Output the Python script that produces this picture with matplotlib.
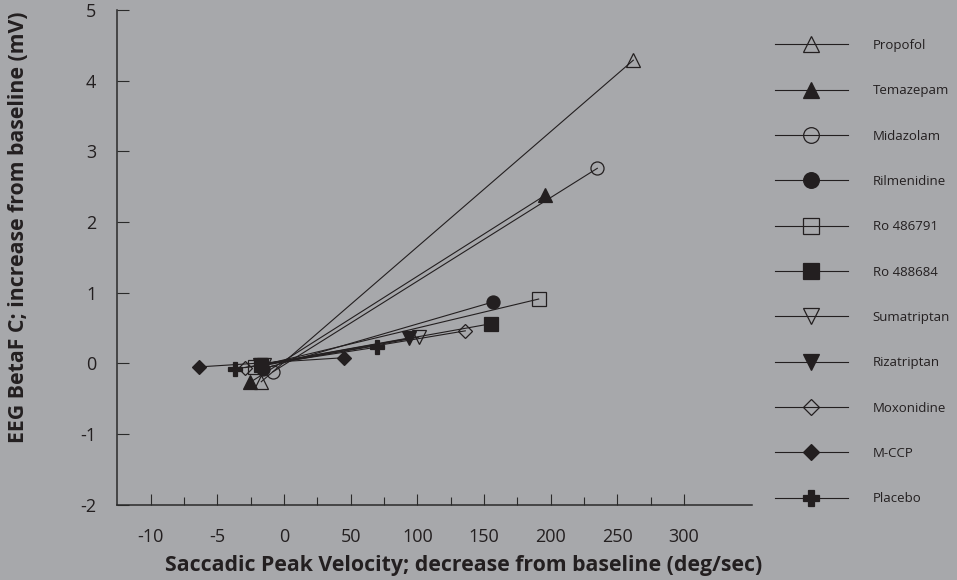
import numpy as np
import matplotlib
matplotlib.use("Agg")
import matplotlib.pyplot as plt

plt.rcParams['font.family'] = ['Open Sans', 'DejaVu Sans']
plt.rcParams['axes.unicode_minus'] = False

# ---- data ----
drugs = ['Propofol', 'Temazepam', 'Midazolam', 'Rilmenidine', 'Ro 486791',
         'Ro 488684', 'Sumatriptan', 'Rizatriptan', 'Moxonidine', 'M-CCP', 'Placebo']
x_low = [-1.7, -2.55, -0.83, -1.6, -2.2, -1.7, -1.5, -1.8, -2.9, -6.35, -3.7]
y_low = [-0.26, -0.27, -0.12, -0.08, -0.05, -0.02, -0.03, -0.02, -0.06, -0.05, -0.08]
x_high = [262, 196, 235, 157, 191, 155, 101, 94, 136, 45, 70]
y_high = [4.29, 2.38, 2.76, 0.87, 0.91, 0.56, 0.37, 0.36, 0.46, 0.08, 0.23]
markers = ['^', '^', 'o', 'o', 's', 's', 'v', 'v', 'D', 'D', 'P']
filled = [False, True, False, True, False, True, False, True, False, True, True]

x_major = [-10, -5, 0, 50, 100, 150, 200, 250, 300]
x_minor = [-7.5, -2.5, 25, 75, 125, 175, 225, 275]
x_labels = ['-10', '-5', '0', '50', '100', '150', '200', '250', '300']
y_ticks = [-2, -1, 0, 1, 2, 3, 4, 5]

BG = '#a7a8ab'
INK = '#231f20'


def fwd(x):
    x = np.asarray(x, dtype=float)
    return np.where(x < 0, x / 5.0, x / 50.0)


def inv(u):
    u = np.asarray(u, dtype=float)
    return np.where(u < 0, u * 5.0, u * 50.0)


W, H = 957, 580
fig = plt.figure(figsize=(W / 100, H / 100), dpi=100, facecolor=BG)
ax = fig.add_axes([117 / W, 1 - 504.7 / H, (752 - 117) / W, (504.7 - 10) / H])
ax.set_facecolor(BG)
ax.set_xscale('function', functions=(fwd, inv))
ax.set_xlim(-12.52, 351)
ax.set_ylim(-2, 5)

for name, xl, yl, xh, yh, m, f in zip(drugs, x_low, y_low, x_high, y_high, markers, filled):
    ms = 6.9 if m == 'D' else 9.4
    ax.plot([xl, xh], [yl, yh], color=INK, lw=0.8, marker=m, markersize=ms,
            markerfacecolor=INK if f else 'none', markeredgecolor=INK,
            markeredgewidth=0.9, label=name)

ax.set_xticks(x_major)
ax.set_xticklabels(x_labels)
ax.set_xticks(x_minor, minor=True)
ax.set_yticks(y_ticks)
ax.set_yticklabels([str(v) for v in y_ticks])

for s in ['top', 'right']:
    ax.spines[s].set_visible(False)
for s in ['left', 'bottom']:
    ax.spines[s].set_linewidth(1.1)
    ax.spines[s].set_color('#2a2a2a')

ax.tick_params(axis='x', which='major', direction='in', length=8, width=0.8,
               color='#2a2a2a', pad=17, labelsize=13, labelcolor=INK)
ax.tick_params(axis='x', which='minor', direction='in', length=5.5, width=0.8,
               color='#2a2a2a')
ax.tick_params(axis='y', which='major', direction='in', length=8.6, width=0.8,
               color='#2a2a2a', pad=15, labelsize=13, labelcolor=INK)

ax.set_xlabel('Saccadic Peak Velocity; decrease from baseline (deg/sec)',
              fontsize=15.3, fontweight='bold', color=INK, va='center')
ax.xaxis.set_label_coords((463.5 - 117) / 635, (504.7 - 565) / 494.7)
ax.set_ylabel('EEG BetaF C; increase from baseline (mV)',
              fontsize=15.3, fontweight='bold', color=INK, va='center')
ax.yaxis.set_label_coords((18 - 117) / 635, 1 - (227 - 10) / 494.7)

leg = ax.legend(loc='upper left', bbox_to_anchor=(775 / W, 1 - 39 / H),
                bbox_transform=fig.transFigure, frameon=False, fontsize=9.5,
                handlelength=5.5, handletextpad=1.9, labelspacing=2.45,
                borderpad=0, borderaxespad=0, markerscale=1.2)
for t in leg.get_texts():
    t.set_color(INK)

fig.savefig('out.png', dpi=100, facecolor=BG)
